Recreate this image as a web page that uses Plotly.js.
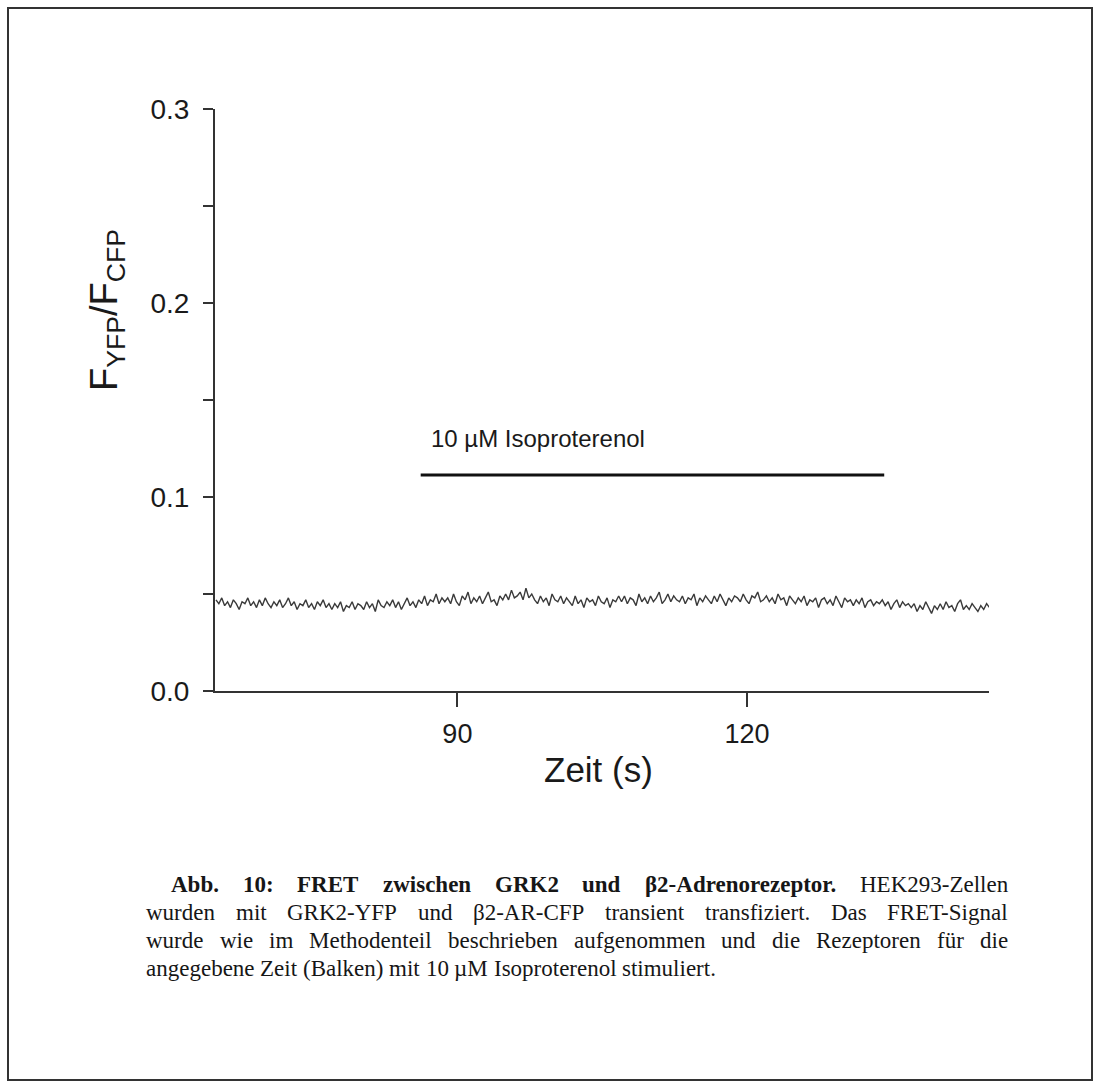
<!DOCTYPE html>
<html>
<head>
<meta charset="utf-8">
<script src="https://cdn.plot.ly/plotly-3.0.1.min.js"></script>
<style>
  html, body { margin: 0; padding: 0; background: #ffffff; }
  #chart { width: 1100px; height: 1088px; }
</style>
</head>
<body>
<div id="chart"></div>
<script>
// ---------------- data ----------------
const startTime = 65.0;      // s, first sample
const sampleStep = 0.3;      // s, sampling interval
const ratioValues = [
  0.047,0.045,0.048,0.044,0.046,0.043,0.047,0.045,0.042,0.046,
  0.045,0.048,0.044,0.046,0.043,0.047,0.044,0.048,0.045,0.043,
  0.046,0.044,0.047,0.043,0.045,0.048,0.044,0.046,0.042,0.045,
  0.044,0.047,0.043,0.045,0.042,0.046,0.044,0.047,0.043,0.045,
  0.042,0.045,0.043,0.046,0.041,0.044,0.043,0.046,0.042,0.045,
  0.044,0.042,0.046,0.043,0.045,0.041,0.047,0.044,0.043,0.046,
  0.044,0.047,0.043,0.046,0.042,0.045,0.048,0.044,0.046,0.043,
  0.047,0.045,0.049,0.044,0.047,0.046,0.050,0.045,0.048,0.046,
  0.048,0.045,0.050,0.046,0.044,0.049,0.047,0.051,0.045,0.048,
  0.046,0.049,0.045,0.048,0.051,0.046,0.047,0.044,0.049,0.047,
  0.050,0.047,0.052,0.048,0.049,0.051,0.047,0.053,0.048,0.050,
  0.047,0.045,0.049,0.046,0.048,0.044,0.050,0.047,0.046,0.049,
  0.045,0.048,0.046,0.044,0.049,0.045,0.047,0.043,0.048,0.046,
  0.047,0.044,0.049,0.046,0.045,0.048,0.043,0.047,0.046,0.049,
  0.046,0.049,0.045,0.048,0.047,0.044,0.050,0.046,0.048,0.045,
  0.049,0.046,0.048,0.051,0.045,0.047,0.050,0.046,0.049,0.047,
  0.046,0.049,0.045,0.048,0.047,0.050,0.044,0.048,0.046,0.049,
  0.047,0.045,0.049,0.046,0.050,0.047,0.044,0.048,0.046,0.049,
  0.048,0.046,0.050,0.047,0.045,0.049,0.048,0.051,0.046,0.047,
  0.049,0.046,0.048,0.045,0.050,0.047,0.048,0.044,0.049,0.047,
  0.045,0.048,0.046,0.049,0.044,0.047,0.046,0.048,0.043,0.047,
  0.048,0.045,0.047,0.044,0.049,0.046,0.043,0.048,0.046,0.047,
  0.044,0.047,0.045,0.048,0.043,0.046,0.047,0.044,0.046,0.045,
  0.047,0.044,0.046,0.042,0.045,0.047,0.043,0.046,0.044,0.045,
  0.043,0.045,0.041,0.044,0.042,0.046,0.043,0.040,0.044,0.042,
  0.045,0.042,0.046,0.043,0.044,0.041,0.045,0.047,0.042,0.044,
  0.042,0.045,0.043,0.041,0.044,0.042,0.045,0.043,0.044,0.042
];

// stimulation bar (10 µM Isoproterenol)
const barTimes = [86.2, 134.2];
const barLevel = [0.1113, 0.1113];
const barLabel = "10 µM Isoproterenol";
const barLabelPos = {x: 87.1, y: 0.1304};

// axes
const xTickVals = [90, 120];
const xTickText = ["90", "120"];
const yTickVals = [0, 0.1, 0.2, 0.3];
const yTickText = ["0.0", "0.1", "0.2", "0.3"];
const yMinorStep = 0.05;
const xRange = [64.9, 145.05];
const yRange = [0, 0.3];
const xTitle = "Zeit (s)";
const yTitle = "F<sub>YFP</sub>/F<sub>CFP</sub>";

// caption
const captionBold = "Abb. 10: FRET zwischen GRK2 und β2-Adrenorezeptor.";
const captionLines = [
  "HEK293-Zellen",
  "wurden mit GRK2-YFP und β2-AR-CFP transient transfiziert. Das FRET-Signal",
  "wurde wie im Methodenteil beschrieben aufgenommen und die Rezeptoren für die",
  "angegebene Zeit (Balken) mit 10 µM Isoproterenol stimuliert."
];

// ---------------- layout helpers ----------------
const W = 1100, H = 1088;
const M = {l: 215, r: 111, t: 109, b: 397};
const PW = W - M.l - M.r, PH = H - M.t - M.b;
const px = x => (x - M.l) / PW;        // pixel x -> paper
const py = y => (H - M.b - y) / PH;    // pixel y -> paper
const SANS = "Liberation Sans, Arial, sans-serif";

const times = ratioValues.map((_, i) => startTime + i * sampleStep);

const traces = [
  {
    type: "scatter", mode: "lines",
    x: times, y: ratioValues,
    line: {color: "#3a3a3a", width: 1.4},
    hoverinfo: "skip", showlegend: false
  },
  {
    type: "scatter", mode: "lines",
    x: barTimes, y: barLevel,
    line: {color: "#111111", width: 3},
    hoverinfo: "skip", showlegend: false
  }
];

// caption word placement (justified text)
const CAP_FONT = "Liberation Serif";
const CAP_SIZE = 23;
const ctx = document.createElement("canvas").getContext("2d");
function measure(t, bold) {
  ctx.font = (bold ? "bold " : "") + CAP_SIZE + "px '" + CAP_FONT + "'";
  return ctx.measureText(t).width;
}
const annotations = [];
function placeLine(words, x0, x1, yPix, justify) {
  const widths = words.map(w => measure(w.t, w.bold));
  const total = widths.reduce((a, b) => a + b, 0);
  const space = measure(" ", false);
  const gap = justify && words.length > 1 ? (x1 - x0 - total) / (words.length - 1) : space;
  let x = x0;
  words.forEach((w, i) => {
    annotations.push({
      xref: "paper", yref: "paper", x: px(x), y: py(yPix),
      xanchor: "left", yanchor: "middle", showarrow: false,
      text: w.bold ? "<b>" + w.t + "</b>" : w.t,
      borderpad: 0,
      font: {family: CAP_FONT, size: CAP_SIZE, color: "#161616"}
    });
    x += widths[i] + gap;
  });
}
const line1 = captionBold.split(" ").map(t => ({t, bold: true}))
  .concat(captionLines[0].split(" ").map(t => ({t, bold: false})));
placeLine(line1, 170, 1007, 884, true);
placeLine(captionLines[1].split(" ").map(t => ({t, bold: false})), 145, 1007, 912, true);
placeLine(captionLines[2].split(" ").map(t => ({t, bold: false})), 145, 1007, 940, true);
placeLine(captionLines[3].split(" ").map(t => ({t, bold: false})), 145, 1007, 968, false);

annotations.push(
  {
    xref: "x", yref: "y", x: barLabelPos.x, y: barLabelPos.y,
    xanchor: "left", yanchor: "middle", showarrow: false,
    text: barLabel,
    font: {family: SANS, size: 24, color: "#1a1a1a"}
  },
  {
    xref: "paper", yref: "paper", x: px(598), y: py(769),
    xanchor: "center", yanchor: "middle", showarrow: false,
    text: xTitle,
    font: {family: SANS, size: 35, color: "#1a1a1a"}
  },
  {
    xref: "paper", yref: "paper", x: px(107), y: py(310),
    xanchor: "center", yanchor: "middle", showarrow: false,
    textangle: -90,
    text: yTitle,
    font: {family: SANS, size: 38, color: "#1a1a1a"}
  }
);

const layout = {
  width: W, height: H,
  margin: M,
  paper_bgcolor: "#ffffff",
  plot_bgcolor: "#ffffff",
  showlegend: false,
  xaxis: {
    range: xRange,
    showgrid: false, zeroline: false,
    showline: true, linecolor: "#333333", linewidth: 2,
    ticks: "outside", ticklen: 14, tickwidth: 2, tickcolor: "#333333",
    tickmode: "array", tickvals: xTickVals, ticktext: xTickText,
    ticklabelstandoff: 4,
    tickfont: {family: SANS, size: 27, color: "#1a1a1a"},
    fixedrange: true
  },
  yaxis: {
    range: yRange,
    showgrid: false, zeroline: false,
    showline: true, linecolor: "#333333", linewidth: 2,
    ticks: "outside", ticklen: 10, tickwidth: 2, tickcolor: "#333333",
    tickmode: "array", tickvals: yTickVals, ticktext: yTickText,
    minor: {dtick: yMinorStep, ticks: "outside", ticklen: 10, tickwidth: 2, tickcolor: "#333333", showgrid: false},
    ticklabelstandoff: 8,
    tickfont: {family: SANS, size: 28, color: "#1a1a1a"},
    fixedrange: true
  },
  annotations: annotations,
  shapes: [
    { // x-axis line extends slightly left of the y-axis
      type: "line", xref: "paper", yref: "paper",
      x0: px(205), x1: 0, y0: 0, y1: 0,
      line: {color: "#333333", width: 2}
    },
    { // page frame
      type: "rect", xref: "paper", yref: "paper",
      x0: px(8), x1: px(1092), y0: py(1080), y1: py(8),
      line: {color: "#333333", width: 2}, fillcolor: "rgba(0,0,0,0)"
    }
  ]
};

Plotly.newPlot("chart", traces, layout, {displayModeBar: false, staticPlot: true});
</script>
</body>
</html>
